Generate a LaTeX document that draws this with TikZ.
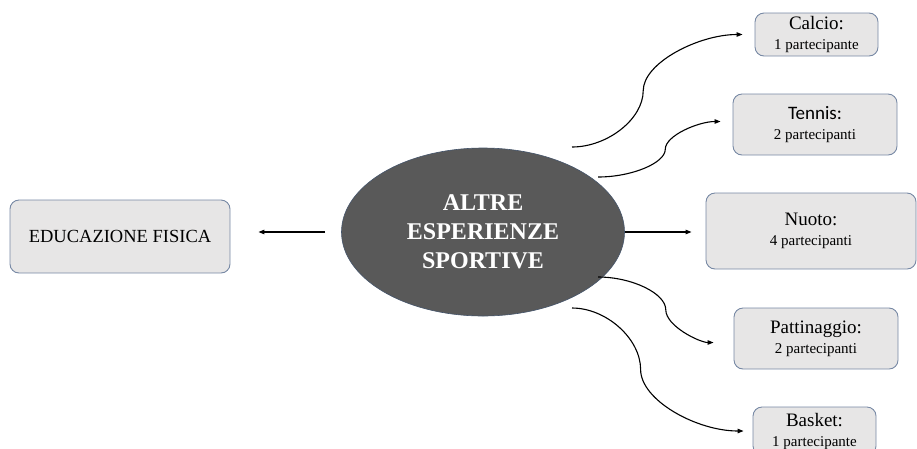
\documentclass[tikz,border=0pt]{standalone}
\usepackage{fontspec}
\setmainfont{Liberation Serif}
\newfontfamily\calibri{Carlito}
\usetikzlibrary{arrows.meta,calc,shapes.geometric}

\definecolor{boxfill}{RGB}{231,230,230}
\definecolor{boxline}{RGB}{118,136,164}
\definecolor{ovalfill}{RGB}{89,89,89}
\definecolor{ovalline}{RGB}{68,84,106}

\tikzset{
	sport/.style={draw=boxline, fill=boxfill, line width=0.9pt, rounded corners=9pt, align=center, inner sep=0pt,
		font=\fontsize{15}{20}\selectfont},
	wave/.style={to path={let \p1=(\tikztostart), \p2=(\tikztotarget), \n1={\x1+#1*(\x2-\x1)} in
		.. controls ({(\x1+\n1)/2},\y1) and (\n1,{(3*\y1+\y2)/4}) .. (\n1,{(\y1+\y2)/2})
		.. controls (\n1,{(\y1+3*\y2)/4}) and ({(\n1+\x2)/2},\y2) .. (\tikztotarget) \tikztonodes}},
	wave/.default=0.5
}

\newcommand{\head}[1]{{\fontsize{19}{20}\selectfont #1}}

\begin{document}
\begin{tikzpicture}[x=1pt, y=1pt, >={Triangle[length=6pt,width=4.5pt]}, line width=1.1pt]
	\useasboundingbox (0,0) rectangle (917,-448);

	\node[draw=ovalline, fill=ovalfill, ellipse, line width=0.6pt, minimum width=283pt, minimum height=168pt,
		text=white, align=center, font=\fontsize{24}{29}\selectfont\bfseries] (main) at (483,-232)
		{ALTRE\\ESPERIENZE\\SPORTIVE};

	\node[sport, minimum width=220pt, minimum height=73pt, font=\fontsize{18.5}{20}\selectfont] (edu) at (120,-236.5) {EDUCAZIONE FISICA};

	\node[sport, minimum width=123pt, minimum height=43pt] (calcio) at (816.5,-34.5) {\head{Calcio:}\\1 partecipante};
	\node[sport, minimum width=164pt, minimum height=61pt] (tennis) at (815,-124.5) {\head{\calibri Tennis:}\\2 partecipanti};
	\node[sport, minimum width=210pt, minimum height=76pt] (nuoto) at (811,-231) {\head{Nuoto:}\\4 partecipanti};
	\node[sport, minimum width=164pt, minimum height=61pt] (patt) at (816,-338.5) {\head{Pattinaggio:}\\2 partecipanti};
	\node[sport, minimum width=123pt, minimum height=48pt] (basket) at (814.5,-431) {\head{Basket:}\\1 partecipante};

	% free ends near the oval
	\coordinate (e0) at (325,-232);
	\coordinate (e1) at (572,-147);
	\coordinate (e2) at (598,-177);
	\coordinate (e3) at (625,-232);
	\coordinate (e4) at (598,-277);
	\coordinate (e5) at (572,-308);

	\draw[->, shorten >=28pt] (e0) -- (e0 -| edu.east);
	\draw[->, shorten >=12pt] (e1) to[wave=0.39] (calcio.west);
	\draw[->, shorten >=12pt] (e2) to[wave] ($(tennis.west)+(0,3)$);
	\draw[->, shorten >=14pt] (e3) -- (e3 -| nuoto.west);
	\draw[->, shorten >=20pt] (e4) to[wave] ($(patt.west)+(0,-4)$);
	\draw[->, shorten >=9pt] (e5) to[wave=0.38] (basket.west);
\end{tikzpicture}
\end{document}
